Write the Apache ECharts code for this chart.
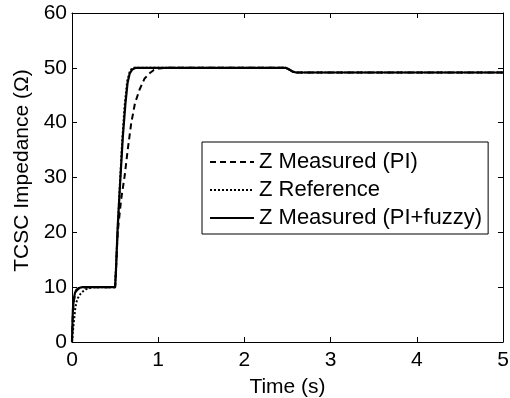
<!DOCTYPE html>
<html>
<head>
<meta charset="utf-8">
<script src="https://cdn.jsdelivr.net/npm/echarts@6/dist/echarts.min.js"></script>
<style>
  html, body { margin: 0; padding: 0; background: #fff; }
  #chart { width: 510px; height: 398px; }
</style>
</head>
<body>
<div id="chart"></div>
<script>
// TCSC impedance step response: reference vs. PI and PI+fuzzy controllers
const xTicks = [0, 1, 2, 3, 4, 5];
const yTicks = [0, 10, 20, 30, 40, 50, 60];

const seriesNames = ['Z Measured (PI)', 'Z Reference', 'Z Measured (PI+fuzzy)'];

// Z Measured (PI)
const tPI = [0, 0.005, 0.01, 0.02, 0.035, 0.05, 0.08, 0.12, 0.2, 0.5, 0.51, 0.53, 0.57, 0.61, 0.65, 0.687, 0.73, 0.783, 0.84, 0.9, 0.95, 1.01, 1.1, 2.48, 2.52, 2.56, 2.6, 5];
const zPI = [0, 2.8, 5.2, 7.3, 8.6, 9.3, 9.75, 9.95, 10, 10, 13, 20, 26, 30.2, 35.5, 39.9, 43.5, 46, 48, 49, 49.6, 49.9, 50, 50, 49.7, 49.3, 49.15, 49.15];

// Z Reference
const tRef = [0, 0.01, 0.02, 0.037, 0.05, 0.068, 0.1, 0.125, 0.16, 0.2, 0.25, 0.5, 0.52, 0.55, 0.58, 0.61, 0.64, 0.67, 0.7, 2.48, 2.52, 2.56, 2.6, 5];
const zRef = [0, 1.8, 3.5, 6.0, 7.2, 8.0, 8.8, 9.2, 9.6, 9.8, 10, 10, 17, 27, 36, 43, 47.5, 49.3, 50, 50, 49.7, 49.3, 49.15, 49.15];

// Z Measured (PI+fuzzy)
const tFz = [0, 0.005, 0.01, 0.02, 0.035, 0.05, 0.08, 0.12, 0.2, 0.5, 0.51, 0.53, 0.56, 0.59, 0.62, 0.645, 0.67, 0.7, 0.74, 2.48, 2.52, 2.56, 2.6, 5];
const zFz = [0, 3.2, 5.8, 7.8, 9.0, 9.5, 9.85, 10, 10, 10, 13, 21, 29.5, 37.5, 43.5, 47.3, 49, 49.7, 50, 50, 49.7, 49.3, 49.15, 49.15];

const pairs = (t, z) => t.map((v, i) => [v, z[i]]);

const FONT = 'Liberation Sans, Arial, sans-serif';
const chart = echarts.init(document.getElementById('chart'), null, { renderer: 'canvas' });

const axisCommon = {
  axisLine: { show: true, onZero: false, lineStyle: { color: '#000', width: 1 } },
  axisTick: { show: true, inside: true, length: 5, lineStyle: { color: '#000' } },
  splitLine: { show: false }
};

chart.setOption({
  animation: false,
  backgroundColor: '#fff',
  grid: { left: 72, right: 7, top: 13, bottom: 56, containLabel: false, outerBoundsMode: 'none' },
  xAxis: [
    Object.assign({
      type: 'value', min: xTicks[0], max: xTicks[xTicks.length - 1], interval: 1,
      name: 'Time (s)', nameLocation: 'middle', nameGap: 35,
      nameTextStyle: { color: '#000', fontSize: 21, fontFamily: FONT },
      axisLabel: { color: '#000', fontSize: 21, fontFamily: FONT, margin: 8 }
    }, axisCommon),
    Object.assign({
      type: 'value', position: 'top', min: xTicks[0], max: xTicks[xTicks.length - 1], interval: 1,
      axisLabel: { show: false }
    }, axisCommon)
  ],
  yAxis: [
    Object.assign({
      type: 'value', min: yTicks[0], max: yTicks[yTicks.length - 1], interval: 10,
      name: 'TCSC Impedance (Ω)', nameLocation: 'middle', nameGap: 39,
      nameTextStyle: { color: '#000', fontSize: 21, fontFamily: FONT, padding: [0, 0, 0, 14] },
      axisLabel: { color: '#000', fontSize: 21, fontFamily: FONT, margin: 5 }
    }, axisCommon),
    Object.assign({
      type: 'value', position: 'right', min: yTicks[0], max: yTicks[yTicks.length - 1], interval: 10,
      axisLabel: { show: false }
    }, axisCommon)
  ],
  legend: {
    orient: 'vertical', align: 'left',
    left: 202, top: 142,
    padding: [9, 6, 5, 7],
    itemWidth: 44, itemHeight: 14, itemGap: 6,
    backgroundColor: '#fff', borderColor: '#000', borderWidth: 1,
    itemStyle: { color: 'rgba(0,0,0,0)', borderWidth: 0 },
    textStyle: { color: '#000', fontSize: 22, fontFamily: FONT },
    data: seriesNames
  },
  series: [
    {
      name: seriesNames[0], type: 'line', data: pairs(tPI, zPI), symbol: 'none',
      itemStyle: { color: '#000' },
      lineStyle: { color: '#000', width: 2, type: [6, 4] }, z: 2
    },
    {
      name: seriesNames[1], type: 'line', data: pairs(tRef, zRef), symbol: 'none',
      itemStyle: { color: '#000' },
      lineStyle: { color: '#000', width: 2, type: [2, 2] }, z: 3
    },
    {
      name: seriesNames[2], type: 'line', data: pairs(tFz, zFz), symbol: 'none',
      itemStyle: { color: '#000' },
      lineStyle: { color: '#000', width: 2.2, type: 'solid' }, z: 4
    }
  ]
});
</script>
</body>
</html>
